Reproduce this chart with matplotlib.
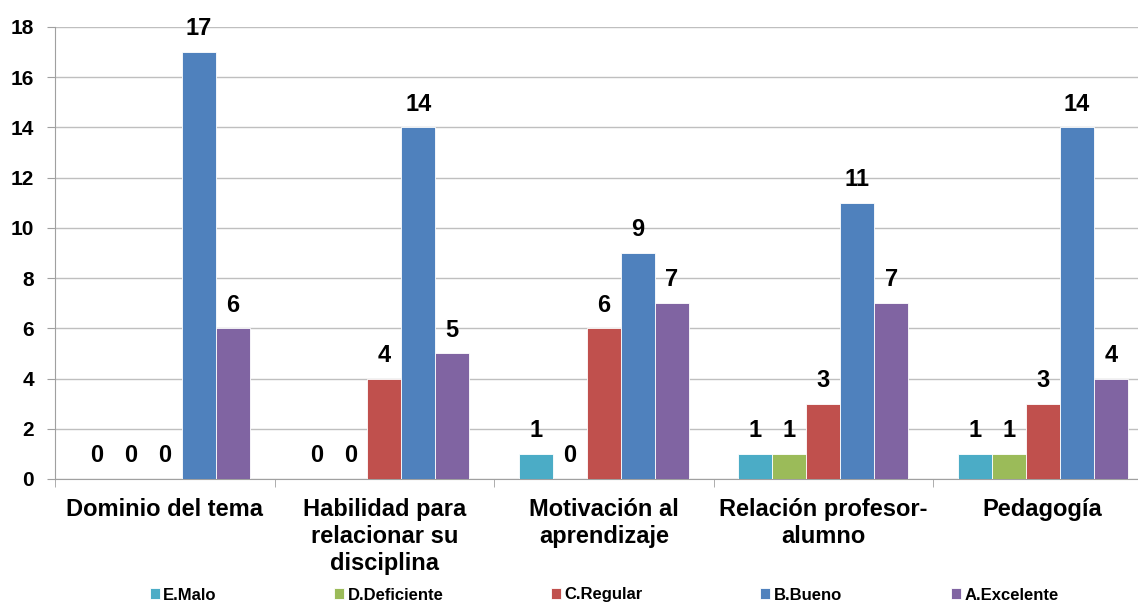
import matplotlib
matplotlib.use("Agg")
import matplotlib.pyplot as plt
import numpy as np

categories = ["Dominio del tema", "Habilidad para\nrelacionar su\ndisciplina",
              "Motivación al\naprendizaje", "Relación profesor-\nalumno", "Pedagogía"]
series_names = ["E.Malo", "D.Deficiente", "C.Regular", "B.Bueno", "A.Excelente"]
e_malo = [0, 0, 1, 1, 1]
d_deficiente = [0, 0, 0, 1, 1]
c_regular = [0, 4, 6, 3, 3]
b_bueno = [17, 14, 9, 11, 14]
a_excelente = [6, 5, 7, 7, 4]
yticks = [0, 2, 4, 6, 8, 10, 12, 14, 16, 18]

series = [e_malo, d_deficiente, c_regular, b_bueno, a_excelente]
colors = ["#4BACC6", "#9BBB59", "#C0504D", "#4F81BD", "#8064A2"]

plt.rcParams['font.family'] = ['Liberation Sans', 'DejaVu Sans']
W, H = 1138, 604
fig = plt.figure(figsize=(W / 100, H / 100), dpi=100)
left_px, right_px, top_px, bot_px = 55, 1138, 27, 479
group_px = 219.5
ax = fig.add_axes([left_px / W, 1 - bot_px / H, (right_px - left_px) / W, (bot_px - top_px) / H])

x = np.arange(len(categories))
bw = 34 / group_px
handles = []
for i, (vals, c) in enumerate(zip(series, colors)):
    pos = x + (i - 2) * bw
    bars = ax.bar(pos, vals, width=bw, color=c, edgecolor='white', linewidth=0.6, zorder=3)
    handles.append(bars)
    for p, v in zip(pos, vals):
        ax.annotate(str(v), (p, v), xytext=(0, 8.5), textcoords='offset points',
                    ha='center', va='bottom', fontsize=17, fontweight='bold', zorder=4)

ax.set_ylim(0, 18)
ax.set_yticks(yticks)
ax.set_yticklabels([str(t) for t in yticks], fontsize=15, fontweight='bold')
ax.grid(axis='y', color='#BFBFBF', linewidth=1, zorder=0)
ax.set_axisbelow(True)
for s in ['top', 'right']:
    ax.spines[s].set_visible(False)
ax.spines['left'].set_color('#A0A0A0')
ax.spines['bottom'].set_color('#A0A0A0')
ax.tick_params(axis='y', length=6, color='#A0A0A0', pad=9)

ax.set_xticks(x)
ax.set_xticklabels(categories, fontsize=17, fontweight='bold', linespacing=1.2)
ax.tick_params(axis='x', length=0, pad=14)
ax.set_xticks(np.arange(len(categories) + 1) - 0.5, minor=True)
ax.tick_params(axis='x', which='minor', length=6, color='#A0A0A0')
ax.set_xlim(-0.5, -0.5 + (right_px - left_px) / group_px)

entry_cx = [183, 389, 597, 801, 1005]
for h, name, ex in zip(handles, series_names, entry_cx):
    fig.legend([h], [name], loc='center', bbox_to_anchor=(ex / W, 1 - 595 / H),
               frameon=False, handlelength=0.6, handleheight=0.6, handletextpad=0.2,
               borderpad=0, borderaxespad=0, prop={'size': 12, 'weight': 'bold'})

fig.savefig("out.png", dpi=100, facecolor='white')
